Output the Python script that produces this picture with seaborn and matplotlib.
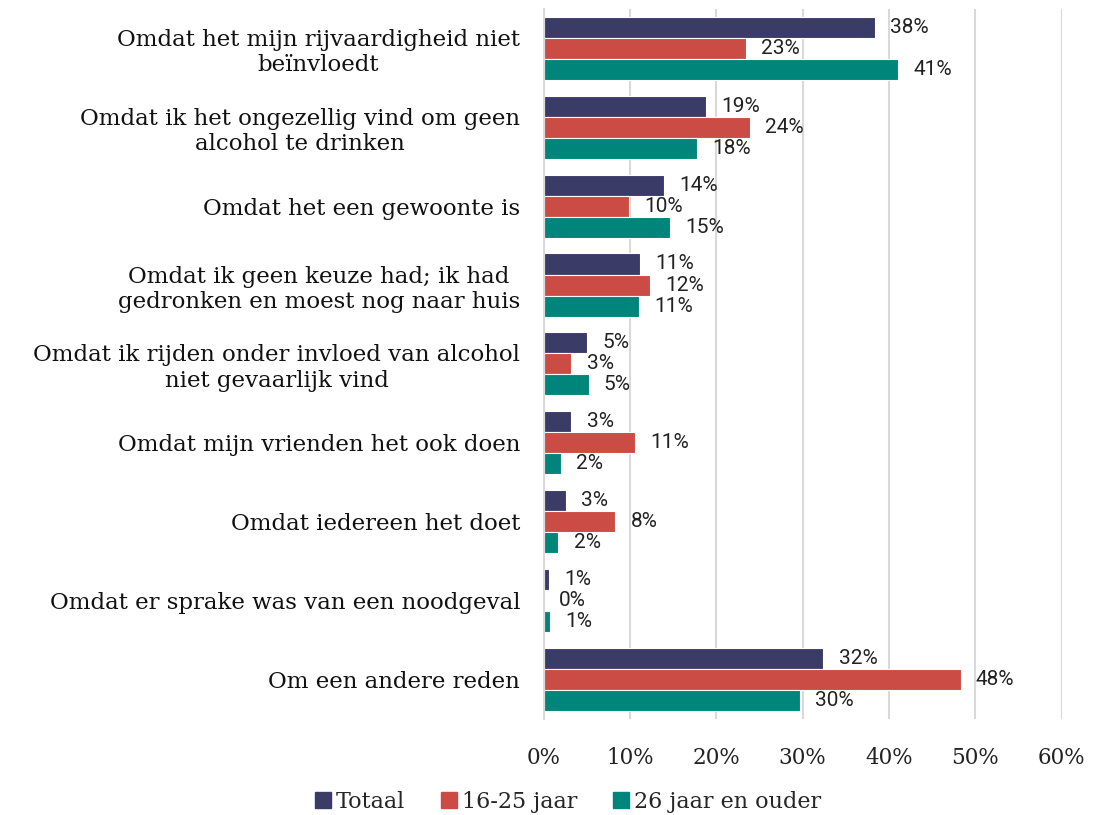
import pandas as pd
import matplotlib.pyplot as plt
import seaborn as sns

# -----------------------------
# Data
# -----------------------------

redenen = [
    "Omdat het mijn rijvaardigheid niet\nbeïnvloedt",
    "Omdat ik het ongezellig vind om geen\nalcohol te drinken",
    "Omdat het een gewoonte is",
    "Omdat ik geen keuze had; ik had\ngedronken en moest nog naar huis",
    "Omdat ik rijden onder invloed van alcohol\nniet gevaarlijk vind",
    "Omdat mijn vrienden het ook doen",
    "Omdat iedereen het doet",
    "Omdat er sprake was van een noodgeval",
    "Om een andere reden",
]

groepen = ["Totaal", "16-25 jaar", "26 jaar en ouder"]

totaal = [38.4, 18.8, 13.9, 11.2, 5.0, 3.2, 2.6, 0.6, 32.4]
jong = [23.4, 23.9, 9.9, 12.3, 3.2, 10.6, 8.3, 0.0, 48.3]
ouder = [41.1, 17.8, 14.6, 11.0, 5.2, 2.0, 1.7, 0.7, 29.7]

kleuren = ["#3a3b66", "#cb4c44", "#00857a"]

df = pd.DataFrame({
    "reden": redenen * 3,
    "groep": [g for g in groepen for _ in redenen],
    "pct": totaal + jong + ouder,
})

# -----------------------------
# Plot
# -----------------------------

sns.set_style("white")
plt.rcParams["font.family"] = ["DejaVu Serif"]

fig = plt.figure(figsize=(11.14, 8.15), dpi=100)
ax = fig.add_axes([0.488, 0.118, 0.465, 0.871])

sns.barplot(
    data=df,
    y="reden",
    x="pct",
    hue="groep",
    orient="h",
    palette=kleuren,
    saturation=1,
    width=0.8,
    edgecolor="white",
    linewidth=0.8,
    legend=False,
    ax=ax,
)

for cont in ax.containers:
    vals = cont.datavalues
    ax.bar_label(
        cont,
        labels=[f"{v:.0f}%" for v in vals],
        padding=11,
        fontsize=15,
        family="Roboto",
        color="#222222",
    )

ax.set_xlim(0, 60)
ax.set_xticks(range(0, 61, 10))
ax.set_xticklabels([f"{t}%" for t in range(0, 61, 10)])
ax.tick_params(axis="x", length=0, pad=20, labelsize=15.5, colors="#222222")
ax.tick_params(axis="y", length=0, pad=17, labelsize=16.5, colors="#111111")
for lab in ax.get_yticklabels():
    lab.set_multialignment("center")

ax.xaxis.grid(True, color="#d9d9d9", linewidth=1.5)
ax.set_axisbelow(True)
for s in ["top", "right", "bottom"]:
    ax.spines[s].set_visible(False)
ax.spines["left"].set_color("#d9d9d9")
ax.spines["left"].set_linewidth(1.5)

ax.set_xlabel("")
ax.set_ylabel("")

handles = [plt.Rectangle((0, 0), 1, 1, color=c) for c in kleuren]
fig.legend(
    handles,
    groepen,
    loc="center",
    bbox_to_anchor=(0.51, 0.016),
    ncol=3,
    frameon=False,
    fontsize=16,
    handlelength=0.7,
    handleheight=0.7,
    handletextpad=0.25,
    columnspacing=1.6,
)

plt.savefig("out.png", dpi=100)
